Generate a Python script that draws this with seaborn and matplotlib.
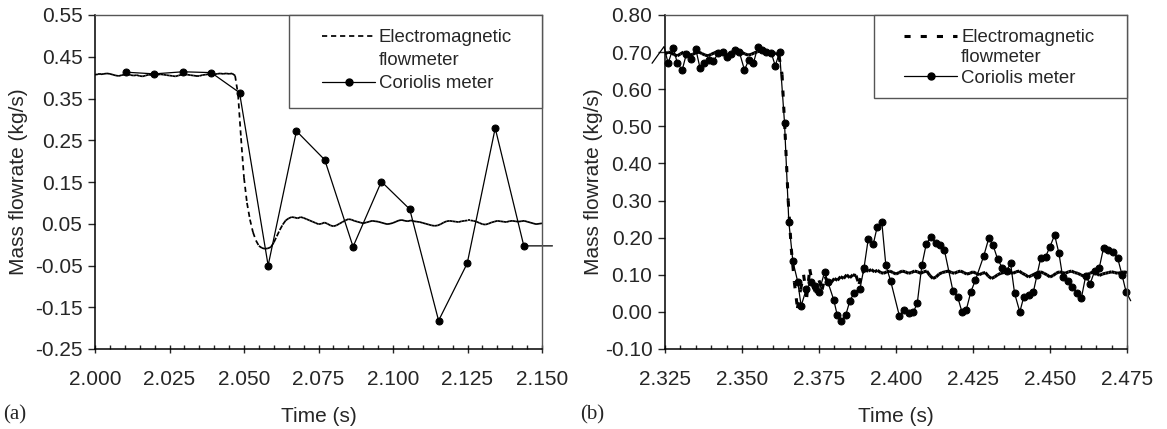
import numpy as np
import pandas as pd
import seaborn as sns
import matplotlib.pyplot as plt
import matplotlib.ticker as mticker
from matplotlib.lines import Line2D
from matplotlib.patches import Rectangle

# ---- panel (a): electromagnetic flowmeter, sampled every 1 ms ----
EM_A_TIME = np.round(np.arange(2.000, 2.1505, 0.001), 3)
EM_A_FLOW = [
    0.407, 0.408, 0.408, 0.409, 0.410, 0.409, 0.407, 0.405, 0.404, 0.406,
    0.407, 0.408, 0.406, 0.405, 0.406, 0.404, 0.403, 0.405, 0.407, 0.406,
    0.405, 0.407, 0.408, 0.407, 0.406, 0.405, 0.404, 0.403, 0.405, 0.407,
    0.408, 0.407, 0.406, 0.405, 0.404, 0.404, 0.406, 0.407, 0.408, 0.409,
    0.408, 0.409, 0.410, 0.409, 0.410, 0.409, 0.410, 0.405, 0.360, 0.255,
    0.160, 0.100, 0.060, 0.030, 0.010, -0.003, -0.008, -0.010, -0.009, -0.006,
    0.005, 0.020, 0.035, 0.048, 0.058, 0.063, 0.066, 0.065, 0.063, 0.066,
    0.064, 0.061, 0.058, 0.055, 0.052, 0.049, 0.050, 0.053, 0.050, 0.046,
    0.044, 0.046, 0.050, 0.054, 0.058, 0.061, 0.060, 0.057, 0.055, 0.053,
    0.051, 0.053, 0.055, 0.057, 0.056, 0.055, 0.053, 0.051, 0.049, 0.050,
    0.052, 0.055, 0.058, 0.059, 0.057, 0.056, 0.058, 0.056, 0.055, 0.054,
    0.052, 0.050, 0.048, 0.046, 0.045, 0.046, 0.049, 0.053, 0.056, 0.057,
    0.056, 0.055, 0.054, 0.056, 0.057, 0.058, 0.058, 0.057, 0.055, 0.052,
    0.049, 0.048, 0.050, 0.053, 0.055, 0.057, 0.056, 0.055, 0.054, 0.056,
    0.057, 0.056, 0.055, 0.056, 0.057, 0.055, 0.053, 0.051, 0.049, 0.050, 0.051,
]

# ---- panel (a): Coriolis meter ----
COR_A_TIME = [2.0104, 2.0199, 2.0295, 2.0390, 2.0485, 2.0581, 2.0676, 2.0771,
              2.0866, 2.0961, 2.1056, 2.1153, 2.1249, 2.1343, 2.1439, 2.1535]
COR_A_FLOW = [0.413, 0.409, 0.414, 0.412, 0.364, -0.050, 0.272, 0.203,
              -0.005, 0.151, 0.085, -0.182, -0.045, 0.279, -0.003, -0.003]

# ---- panel (b): electromagnetic flowmeter, sampled every 1 ms ----
EM_B_TIME = np.round(np.arange(2.325, 2.4755, 0.001), 3)
EM_B_FLOW = [
    0.695, 0.700, 0.698, 0.693, 0.690, 0.695, 0.700, 0.697, 0.692, 0.694,
    0.698, 0.700, 0.696, 0.692, 0.690, 0.694, 0.698, 0.701, 0.699, 0.695,
    0.692, 0.694, 0.697, 0.700, 0.702, 0.699, 0.695, 0.692, 0.694, 0.698,
    0.701, 0.703, 0.700, 0.696, 0.693, 0.695, 0.698,
    0.690, 0.640, 0.480, 0.300, 0.170, 0.080, 0.010, 0.060, 0.100, 0.040,
    0.115, 0.070, 0.050,
    0.085, 0.060, 0.095, 0.075, 0.080, 0.090, 0.085, 0.095, 0.090, 0.100,
    0.092, 0.100, 0.098, 0.075, 0.105, 0.112, 0.110, 0.114, 0.108, 0.112,
    0.106, 0.104, 0.108, 0.110, 0.106, 0.102, 0.106, 0.110, 0.108, 0.104,
    0.106, 0.110, 0.108, 0.104, 0.108, 0.110, 0.098, 0.090, 0.094, 0.102,
    0.106, 0.108, 0.110, 0.106, 0.104, 0.108, 0.110, 0.106, 0.102, 0.104,
    0.108, 0.104, 0.100, 0.104, 0.106, 0.096, 0.090, 0.094, 0.100, 0.104,
    0.106, 0.110, 0.106, 0.104, 0.108, 0.110, 0.104, 0.100, 0.094, 0.098,
    0.102, 0.106, 0.108, 0.104, 0.100, 0.094, 0.098, 0.104, 0.108, 0.106,
    0.104, 0.108, 0.110, 0.106, 0.104, 0.100, 0.096, 0.100, 0.104, 0.108,
    0.106, 0.098, 0.102, 0.104, 0.106, 0.108, 0.106, 0.104, 0.106, 0.108, 0.106,
]

# ---- panel (b): Coriolis meter ----
COR_B_TIME = [
    2.3208, 2.3247, 2.3260, 2.3277, 2.3290, 2.3306, 2.3319, 2.3334, 2.3350, 2.3364,
    2.3377, 2.3393, 2.3407, 2.3423, 2.3437, 2.3450, 2.3464, 2.3477, 2.3491, 2.3508,
    2.3522, 2.3537, 2.3551, 2.3565, 2.3578, 2.3595, 2.3608, 2.3622, 2.3638, 2.3652,
    2.3665, 2.3681, 2.3692, 2.3709, 2.3725, 2.3737, 2.3750, 2.3768, 2.3779, 2.3798,
    2.3809, 2.3822, 2.3837, 2.3850, 2.3863, 2.3883, 2.3896, 2.3910, 2.3926, 2.3939,
    2.3954, 2.3967, 2.3983, 2.4011, 2.4026, 2.4043, 2.4056, 2.4069, 2.4084, 2.4098,
    2.4113, 2.4130, 2.4143, 2.4157, 2.4185, 2.4200, 2.4214, 2.4228, 2.4243, 2.4258,
    2.4285, 2.4301, 2.4315, 2.4330, 2.4345, 2.4359, 2.4372, 2.4385, 2.4402, 2.4415,
    2.4431, 2.4446, 2.4458, 2.4470, 2.4486, 2.4500, 2.4515, 2.4529, 2.4541, 2.4557,
    2.4573, 2.4589, 2.4602, 2.4616, 2.4630, 2.4645, 2.4660, 2.4674, 2.4687, 2.4703,
    2.4720, 2.4734, 2.4747, 2.4762,
]
COR_B_FLOW = [
    0.670, 0.715, 0.670, 0.712, 0.670, 0.652, 0.694, 0.681, 0.708, 0.656,
    0.670, 0.679, 0.676, 0.697, 0.701, 0.688, 0.695, 0.706, 0.701, 0.652,
    0.679, 0.670, 0.713, 0.706, 0.701, 0.698, 0.663, 0.700, 0.510, 0.243,
    0.137, 0.081, 0.016, 0.062, 0.080, 0.070, 0.054, 0.107, 0.080, 0.032,
    -0.008, -0.024, -0.008, 0.029, 0.050, 0.062, 0.118, 0.197, 0.182, 0.229,
    0.241, 0.126, 0.082, -0.011, 0.005, -0.004, -0.001, 0.023, 0.126, 0.182,
    0.203, 0.185, 0.180, 0.167, 0.056, 0.041, 0.000, 0.005, 0.054, 0.086,
    0.151, 0.198, 0.180, 0.142, 0.119, 0.110, 0.131, 0.050, 0.000, 0.041,
    0.046, 0.054, 0.100, 0.146, 0.149, 0.176, 0.207, 0.158, 0.095, 0.083,
    0.068, 0.050, 0.038, 0.097, 0.075, 0.110, 0.119, 0.173, 0.167, 0.162,
    0.144, 0.099, 0.054, 0.030,
]

# y tick values of each panel
YTICKS_A = [-0.25, -0.15, -0.05, 0.05, 0.15, 0.25, 0.35, 0.45, 0.55]
YTICKS_B = [-0.10, 0.00, 0.10, 0.20, 0.30, 0.40, 0.50, 0.60, 0.70, 0.80]

TICK_SIZE = 15
LEGEND_SIZE = 13.4


def em_segments(times, flows):
    # every sample pair is its own line, so the dash pattern restarts
    # on each segment (the way the spreadsheet drew it)
    rows = []
    for i in range(len(times) - 1):
        rows.append((times[i], flows[i], i))
        rows.append((times[i + 1], flows[i + 1], i))
    return pd.DataFrame(rows, columns=["time", "flow", "seg"])


def draw_panel(ax, em_t, em_v, cor_t, cor_v, xlim, yticks, em_lw, em_dash,
               box, anchor, spacing, ylabel_x):
    seg_df = em_segments(list(em_t), list(em_v))
    sns.lineplot(data=seg_df, x="time", y="flow", units="seg", estimator=None,
                 color="black", linewidth=em_lw, linestyle=em_dash,
                 legend=False, ax=ax)

    inside = [xlim[0] <= t <= xlim[1] for t in cor_t]
    sns.lineplot(x=cor_t, y=cor_v, sort=False, estimator=None, color="black",
                 linewidth=0.9, marker="o", markersize=5,
                 markerfacecolor="black", markeredgecolor="black",
                 markevery=inside, clip_on=False, ax=ax)

    ax.set_xlim(xlim)
    ax.set_ylim(yticks[0], yticks[-1])
    ax.xaxis.set_major_locator(mticker.MultipleLocator(0.025))
    ax.xaxis.set_minor_locator(mticker.MultipleLocator(0.005))
    ax.yaxis.set_major_locator(mticker.FixedLocator(yticks))
    ax.yaxis.set_major_formatter(mticker.FuncFormatter(lambda v, _: f"{round(v, 2) + 0.0:.2f}"))
    ax.xaxis.set_major_formatter(mticker.FuncFormatter(lambda v, _: f"{v:.3f}"))
    ax.tick_params(axis="x", which="major", direction="inout", length=6, width=1, pad=12,
                   labelsize=TICK_SIZE)
    ax.tick_params(axis="x", which="minor", direction="in", length=3, width=1)
    ax.tick_params(axis="y", which="major", direction="out", length=5, width=1, pad=4,
                   labelsize=TICK_SIZE)

    for side in ["left", "bottom"]:
        ax.spines[side].set_color("black")
        ax.spines[side].set_linewidth(1.1)
    for side in ["top", "right"]:
        ax.spines[side].set_visible(True)
        ax.spines[side].set_color("#555555")
        ax.spines[side].set_linewidth(1.0)

    ax.set_xlabel("Time (s)", fontsize=TICK_SIZE)
    ax.set_ylabel("Mass flowrate (kg/s)", fontsize=TICK_SIZE)
    ax.xaxis.set_label_coords(0.5, -0.175)
    ax.yaxis.set_label_coords(ylabel_x, 0.5)

    ax.add_patch(Rectangle((box[0], box[1]), 1 - box[0], 1 - box[1],
                           transform=ax.transAxes, facecolor="white",
                           edgecolor="#555555", linewidth=1.0, zorder=4,
                           clip_on=False))
    handles = [
        Line2D([], [], color="black", linewidth=em_lw, linestyle=em_dash),
        Line2D([], [], linestyle="none"),
        Line2D([], [], color="black", linewidth=0.9, marker="o", markersize=5),
    ]
    leg = ax.legend(handles, ["Electromagnetic", "flowmeter", "Coriolis meter"],
                    loc="upper left", bbox_to_anchor=anchor, frameon=False,
                    borderpad=0, borderaxespad=0, handlelength=2.85,
                    handletextpad=0.2, labelspacing=spacing,
                    fontsize=LEGEND_SIZE)
    leg.set_zorder(5)


sns.set_style("ticks")
plt.rcParams["font.family"] = ["Liberation Sans", "DejaVu Sans"]

fig = plt.figure(figsize=(11.67, 4.29), dpi=100)
ax_a = fig.add_axes([95 / 1167, 80 / 429, 447 / 1167, 334 / 429])
ax_b = fig.add_axes([665 / 1167, 80 / 429, 462 / 1167, 334 / 429])

draw_panel(ax_a, EM_A_TIME, EM_A_FLOW, COR_A_TIME, COR_A_FLOW,
           (2.000, 2.150), YTICKS_A, 1.25, (0, (3.0, 2.2)),
           (0.434, 0.722), (0.508, 0.958), 0.32, -0.15)
draw_panel(ax_b, EM_B_TIME, EM_B_FLOW, COR_B_TIME, COR_B_FLOW,
           (2.325, 2.475), YTICKS_B, 2.2, (0, (2.0, 3.3)),
           (0.453, 0.751), (0.518, 0.958), 0.18, -0.135)

fig.text(0.003, 0.033, "(a)", family=["Liberation Serif", "DejaVu Serif"],
         fontsize=TICK_SIZE, va="center", ha="left")
fig.text(0.497, 0.033, "(b)", family=["Liberation Serif", "DejaVu Serif"],
         fontsize=TICK_SIZE, va="center", ha="left")

plt.savefig("out.png", dpi=100)
